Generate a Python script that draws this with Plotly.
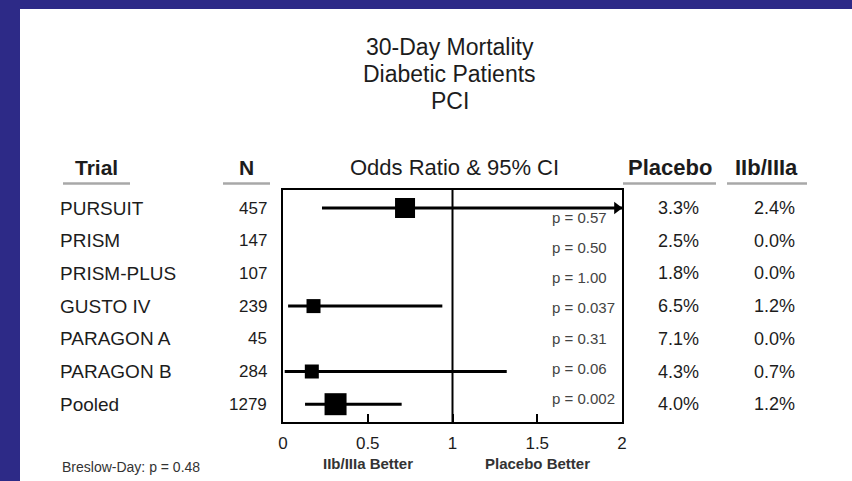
import plotly.graph_objects as go

# ---------------- data ----------------
trials = ["PURSUIT", "PRISM", "PRISM-PLUS", "GUSTO IV", "PARAGON A", "PARAGON B", "Pooled"]
n_patients = [457, 147, 107, 239, 45, 284, 1279]
odds_ratio = [0.72, None, None, 0.18, None, 0.17, 0.31]
ci_low = [0.23, None, None, 0.03, None, 0.01, 0.13]
ci_high = [2.40, None, None, 0.94, None, 1.32, 0.70]
p_values = ["0.57", "0.50", "1.00", "0.037", "0.31", "0.06", "0.002"]
placebo_pct = [3.3, 2.5, 1.8, 6.5, 7.1, 4.3, 4.0]
iib_pct = [2.4, 0.0, 0.0, 1.2, 0.0, 0.7, 1.2]
x_ticks = [0, 0.5, 1, 1.5, 2]
x_tick_text = ["0", "0.5", "1", "1.5", "2"]
title_lines = ["30-Day Mortality", "Diabetic Patients", "PCI"]
breslow_text = "Breslow-Day: p = 0.48"

# ---------------- styles ----------------
W, H = 852, 481
BLUE = "#2D2A87"
INK = "#1c1c1c"
FONT = "Liberation Sans, Arial, Helvetica, sans-serif"
box_size = {"PURSUIT": 20, "GUSTO IV": 14, "PARAGON B": 14, "Pooled": 22}
X_MIN, X_MAX = 0, 2


def px(x):
    return x / W


def py(y):
    return 1 - y / H


# plot box in pixels
BOX_L, BOX_R, BOX_T, BOX_B = 283, 622, 190, 422
ROW0, ROW_STEP = 208, 32.7       # pixel centre of first row, row spacing
P0, P_STEP = 217, 30.33          # p-value labels use their own scale
row_range = [(BOX_B - ROW0) / ROW_STEP, (BOX_T - ROW0) / ROW_STEP]
p_range = [(BOX_B - P0) / P_STEP, (BOX_T - P0) / P_STEP]

fig = go.Figure()

for i, t in enumerate(trials):
    if odds_ratio[i] is None:
        continue
    hi = min(ci_high[i], X_MAX)
    fig.add_trace(go.Scatter(
        x=[ci_low[i], hi], y=[i, i], mode="lines",
        line=dict(color="black", width=3), hoverinfo="skip", showlegend=False))
    if ci_high[i] > X_MAX:
        fig.add_trace(go.Scatter(
            x=[X_MAX - 0.03], y=[i], mode="markers",
            marker=dict(symbol="triangle-right", size=11, color="black"),
            cliponaxis=False, hoverinfo="skip", showlegend=False))
    fig.add_trace(go.Scatter(
        x=[odds_ratio[i]], y=[i], mode="markers",
        marker=dict(symbol="square", size=box_size.get(t, 14), color="black",
                    line=dict(width=0)),
        hoverinfo="skip", showlegend=False))

# invisible trace to activate y2
fig.add_trace(go.Scatter(x=[1], y=[0], yaxis="y2", mode="markers",
                         marker=dict(opacity=0), hoverinfo="skip", showlegend=False))

ann = []
# title
for k, line in enumerate(title_lines):
    ann.append(dict(text=line, x=px(450), y=py(47 + 27 * k), xref="paper", yref="paper",
                    xanchor="center", yanchor="middle", showarrow=False,
                    font=dict(size=23, color=INK, family=FONT)))

# headers
hdr = [("Trial", 96, True, 21), ("N", 246, True, 21), ("Odds Ratio & 95% CI", 454, False, 22),
       ("Placebo", 670, True, 22), ("IIb/IIIa", 766, True, 22)]
for text, cx, bold, fs in hdr:
    ann.append(dict(text=f"<b>{text}</b>" if bold else text, x=px(cx), y=py(167.5),
                    xref="paper", yref="paper", xanchor="center", yanchor="middle",
                    showarrow=False, font=dict(size=fs, color=INK, family=FONT)))

# row texts
for i, t in enumerate(trials):
    ann.append(dict(text=t, x=px(58), y=i, xref="paper", yref="y", xanchor="left",
                    yanchor="middle", showarrow=False,
                    font=dict(size=19, color=INK, family=FONT)))
    ann.append(dict(text=str(n_patients[i]), x=px(269), y=i, xref="paper", yref="y",
                    xanchor="right", yanchor="middle", showarrow=False,
                    font=dict(size=17, color=INK, family=FONT)))
    ann.append(dict(text=f"{placebo_pct[i]:.1f}%", x=px(678), y=i, xref="paper", yref="y",
                    xanchor="center", yanchor="middle", showarrow=False,
                    font=dict(size=18, color=INK, family=FONT)))
    ann.append(dict(text=f"{iib_pct[i]:.1f}%", x=px(774), y=i, xref="paper", yref="y",
                    xanchor="center", yanchor="middle", showarrow=False,
                    font=dict(size=18, color=INK, family=FONT)))
    ann.append(dict(text=f"p = {p_values[i]}", x=px(550), y=i, xref="paper", yref="y2",
                    xanchor="left", yanchor="middle", showarrow=False,
                    font=dict(size=15, color="#444444", family=FONT)))

# favour labels under the axis
for label, xv in [("IIb/IIIa Better", 0.5), ("Placebo Better", 1.5)]:
    ann.append(dict(text=f"<b>{label}</b>", x=xv, y=py(463), xref="x", yref="paper",
                    xanchor="center", yanchor="middle", showarrow=False,
                    font=dict(size=15, color="#333333", family=FONT)))
ann.append(dict(text=breslow_text, x=px(60), y=py(467), xref="paper", yref="paper",
                xanchor="left", yanchor="middle", showarrow=False,
                font=dict(size=14, color="#333333", family=FONT)))

shapes = [
    dict(type="rect", xref="paper", yref="paper", x0=0, x1=px(20), y0=0, y1=1,
         fillcolor=BLUE, line=dict(width=0), layer="below"),
    dict(type="rect", xref="paper", yref="paper", x0=0, x1=1, y0=py(9), y1=1,
         fillcolor=BLUE, line=dict(width=0), layer="below"),
    dict(type="line", xref="x", yref="y domain", x0=1, x1=1, y0=0, y1=1,
         line=dict(color="black", width=2)),
]
for x0, x1 in [(63, 130), (223, 270), (623, 716), (727, 807)]:
    shapes.append(dict(type="line", xref="paper", yref="paper", x0=px(x0), x1=px(x1),
                       y0=py(183.5), y1=py(183.5), line=dict(color="#a8a8a8", width=2.5)))

fig.update_layout(
    width=W, height=H, autosize=False,
    margin=dict(l=0, r=0, t=0, b=0, autoexpand=False),
    paper_bgcolor="white", plot_bgcolor="white",
    showlegend=False,
    font=dict(family=FONT, color=INK),
    xaxis=dict(domain=[px(BOX_L), px(BOX_R)], range=[X_MIN, X_MAX],
               showline=True, mirror=True, linecolor="black", linewidth=2,
               ticks="inside", ticklen=8, tickwidth=2, tickcolor="black",
               tickvals=x_ticks, ticktext=x_tick_text, ticklabelstandoff=5,
               tickfont=dict(size=17, color=INK, family=FONT),
               showgrid=False, zeroline=False, fixedrange=True),
    yaxis=dict(domain=[py(BOX_B), py(BOX_T)], range=row_range,
               showline=True, mirror=True, linecolor="black", linewidth=2,
               showticklabels=False, ticks="", showgrid=False, zeroline=False,
               fixedrange=True),
    yaxis2=dict(overlaying="y", range=p_range, visible=False, fixedrange=True),
    annotations=ann,
    shapes=shapes,
)

fig.write_html("out.html", config={"displayModeBar": False})
